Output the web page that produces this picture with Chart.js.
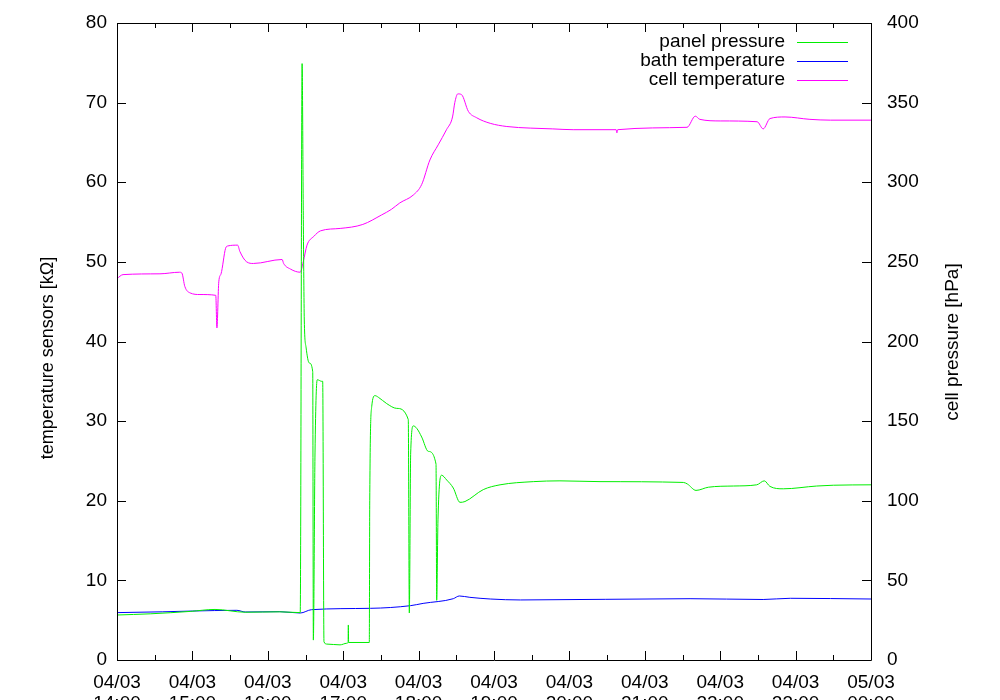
<!DOCTYPE html>
<html>
<head>
<meta charset="utf-8">
<script src="https://cdn.jsdelivr.net/npm/chart.js@4/dist/chart.umd.min.js"></script>
<style>
  body { margin: 0; background: #fff; }
  canvas { display: block; }
</style>
</head>
<body>
<canvas id="chart" width="1000" height="700"></canvas>
<script>
const cellTime = [14.00, 14.08, 14.57, 14.83, 14.86, 14.90, 14.97, 15.10, 15.31, 15.325, 15.35, 15.38,
  15.44, 15.47, 15.60, 15.63, 15.72, 15.81, 16.19, 16.21, 16.30, 16.43, 16.47, 16.52, 16.61, 16.70,
  16.96, 17.26, 17.51, 17.64, 17.75, 17.93, 18.04, 18.15, 18.26, 18.37, 18.45, 18.48, 18.52, 18.57,
  18.66, 18.77, 18.95, 19.17, 19.48, 19.78, 20.05, 20.62, 20.63, 20.64, 21.56, 21.67, 21.73, 22.00,
  22.49, 22.57, 22.66, 22.86, 23.19, 23.46, 24.00];
const cellTemp = [47.9, 48.4, 48.5, 48.7, 48.6, 46.9, 46.1, 45.9, 45.8, 41.7, 47.5, 48.5,
  51.7, 52.0, 52.1, 51.3, 50.0, 49.8, 50.3, 49.8, 49.1, 48.7, 50.0, 52.1, 53.2, 53.9,
  54.2, 54.7, 55.9, 56.6, 57.4, 58.4, 59.7, 62.8, 64.7, 66.6, 68.2, 70.0, 71.1, 71.0,
  68.9, 68.1, 67.4, 67.0, 66.8, 66.7, 66.6, 66.6, 66.2, 66.6, 66.9, 68.3, 67.9, 67.7,
  67.6, 66.7, 68.0, 68.2, 67.9, 67.8, 67.8];

const bathTime = [14.00, 14.60, 15.00, 15.59, 15.70, 16.16, 16.43, 16.58, 17.36, 17.89, 18.06, 18.46,
  18.54, 18.68, 18.95, 19.35, 21.60, 22.57, 22.93, 24.00];
const bathTemp = [5.95, 6.05, 6.15, 6.24, 6.03, 6.07, 5.90, 6.32, 6.49, 6.82, 7.11, 7.70,
  8.04, 7.87, 7.66, 7.54, 7.70, 7.60, 7.75, 7.66];

const panelTime = [14.00, 14.44, 14.97, 15.30, 15.70, 16.16, 16.43, 16.455, 16.471, 16.484, 16.507, 16.550,
  16.596, 16.604, 16.626, 16.656, 16.715, 16.728, 16.745, 16.781, 16.958, 17.046, 17.065, 17.068, 17.072,
  17.346, 17.352, 17.378, 17.422, 17.466, 17.577, 17.710, 17.863, 17.877, 17.895, 17.930, 17.975, 18.041,
  18.129, 18.231, 18.240, 18.257, 18.306, 18.373, 18.460, 18.549, 18.615, 18.858, 19.080, 19.521, 19.875,
  20.406, 21.511, 21.565, 21.679, 21.844, 22.174, 22.484, 22.585, 22.660, 22.837, 23.280, 23.500, 24.000];
const panelPressure = [5.65, 5.8, 6.1, 6.35, 6.0, 6.05, 5.95, 74.9, 55.3, 42.7, 39.3, 37.3,
  36.2, 2.5, 26.0, 35.2, 35.0, 35.0, 2.3, 2.0, 1.9, 2.1, 2.2, 4.4, 2.2,
  2.2, 20.0, 31.8, 33.2, 33.0, 32.2, 31.6, 30.2, 5.9, 26.0, 29.4, 29.1, 28.0,
  26.2, 24.6, 7.5, 17.6, 23.2, 22.6, 21.6, 19.8, 19.9, 21.4, 22.0, 22.4, 22.5,
  22.4, 22.3, 22.1, 21.3, 21.7, 21.85, 22.0, 22.5, 21.8, 21.5, 21.85, 21.95, 22.0];

const seriesNames = ['panel pressure', 'bath temperature', 'cell temperature'];
const seriesColors = ['#00ee00', '#0000ff', '#ff00ff'];

const FONT = '"Liberation Sans", Arial, sans-serif';

function pts(xs, ys) {
  return xs.map((x, i) => ({ x: x, y: ys[i] }));
}

function hourLabel(v) {
  const h = Math.round(v);
  if (h >= 24) return ['05/03', String(h - 24).padStart(2, '0') + ':00'];
  return ['04/03', String(h).padStart(2, '0') + ':00'];
}

// frame, inward ticks, legend and axis titles in gnuplot style
const framePlugin = {
  id: 'frame',
  afterDraw(chart) {
    const ctx = chart.ctx;
    const a = chart.chartArea;
    const xs = chart.scales.x, ys = chart.scales.y;
    ctx.save();
    ctx.strokeStyle = '#000';
    ctx.lineWidth = 1;
    ctx.beginPath();
    ctx.rect(Math.round(a.left) + 0.5, Math.round(a.top) + 0.5,
      Math.round(a.right - a.left), Math.round(a.bottom - a.top));
    ctx.stroke();

    ctx.beginPath();
    for (let v = 0; v <= 80; v += 10) {
      const y = Math.round(ys.getPixelForValue(v)) + 0.5;
      ctx.moveTo(a.left, y); ctx.lineTo(a.left + 9, y);
      ctx.moveTo(a.right, y); ctx.lineTo(a.right - 9, y);
    }
    for (let h = 14; h <= 24; h += 0.5) {
      const x = Math.round(xs.getPixelForValue(h)) + 0.5;
      const len = Number.isInteger(h) ? 9 : 5;
      ctx.moveTo(x, a.bottom); ctx.lineTo(x, a.bottom - len);
      ctx.moveTo(x, a.top); ctx.lineTo(x, a.top + len);
    }
    ctx.stroke();

    // legend
    ctx.font = '19px ' + FONT;
    ctx.textAlign = 'right';
    ctx.textBaseline = 'middle';
    chart.data.datasets.forEach((ds, i) => {
      const y = 42 + i * 19;
      ctx.fillStyle = '#000';
      ctx.fillText(ds.label, 785, y);
      ctx.strokeStyle = ds.borderColor;
      ctx.beginPath();
      ctx.moveTo(797, y + 0.5); ctx.lineTo(848, y + 0.5);
      ctx.stroke();
    });

    // axis titles
    ctx.font = '18px ' + FONT;
    ctx.fillStyle = '#000';
    ctx.textAlign = 'center';
    ctx.textBaseline = 'middle';
    ctx.translate(48, 358);
    ctx.rotate(-Math.PI / 2);
    ctx.fillText('temperature sensors [kΩ]', 0, 0);
    ctx.setTransform(1, 0, 0, 1, 0, 0);
    ctx.font = '19px ' + FONT;
    ctx.translate(953, 342);
    ctx.rotate(-Math.PI / 2);
    ctx.fillText('cell pressure [hPa]', 0, 0);
    ctx.restore();
  }
};

const lineDs = (label, data, color) => ({
  label: label,
  data: data,
  borderColor: color,
  backgroundColor: color,
  borderWidth: 1,
  pointRadius: 0,
  cubicInterpolationMode: 'monotone',
  fill: false,
  yAxisID: 'y'
});

// keep the plot area fixed at 117..871 x 23..660
function fixWidth(w) {
  return s => { s.width = w; s.paddingTop = 0; s.paddingBottom = 0; };
}

new Chart(document.getElementById('chart').getContext('2d'), {
  type: 'line',
  data: {
    datasets: [
      lineDs(seriesNames[0], pts(panelTime, panelPressure), seriesColors[0]),
      lineDs(seriesNames[1], pts(bathTime, bathTemp), seriesColors[1]),
      lineDs(seriesNames[2], pts(cellTime, cellTemp), seriesColors[2])
    ]
  },
  options: {
    responsive: false,
    animation: false,
    layout: { padding: { top: 23, left: 0, right: 0, bottom: 0 } },
    plugins: { legend: { display: false }, tooltip: { enabled: false } },
    scales: {
      x: {
        type: 'linear',
        min: 14,
        max: 24,
        afterFit: s => { s.height = 40; s.paddingLeft = 0; s.paddingRight = 0; },
        grid: { display: false },
        border: { display: false },
        ticks: {
          stepSize: 1,
          padding: 4,
          maxRotation: 0,
          autoSkip: false,
          color: '#000',
          font: { family: FONT, size: 19, lineHeight: 1.1 },
          callback: v => hourLabel(v)
        }
      },
      y: {
        position: 'left',
        min: 0,
        max: 80,
        afterFit: fixWidth(117),
        grid: { display: false },
        border: { display: false },
        ticks: {
          stepSize: 10,
          padding: 2,
          color: '#000',
          font: { family: FONT, size: 19 }
        }
      },
      y2: {
        position: 'right',
        min: 0,
        max: 400,
        afterFit: fixWidth(129),
        grid: { display: false },
        border: { display: false },
        ticks: {
          stepSize: 50,
          padding: 8,
          color: '#000',
          font: { family: FONT, size: 19 }
        }
      }
    }
  },
  plugins: [framePlugin]
});
</script>
</body>
</html>
